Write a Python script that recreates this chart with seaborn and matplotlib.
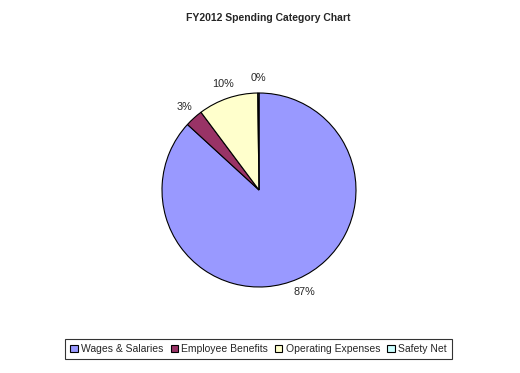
import matplotlib
matplotlib.use("Agg")
import matplotlib.pyplot as plt
import seaborn as sns

# Data
categories = ["Wages & Salaries", "Employee Benefits", "Operating Expenses", "Safety Net"]
shares = [86.8, 3.0, 10.0, 0.2]
pct_labels = ["87%", "3%", "10%", "0%"]
colors = ["#9999FF", "#993366", "#FFFFCC", "#CCFFFF"]

sns.set_style("white")
plt.rcParams["font.family"] = ["Liberation Sans", "DejaVu Sans"]

fig = plt.figure(figsize=(5.2, 3.73), dpi=100)
fig.patch.set_facecolor("white")

# pie centre ~ (259,190) px, radius ~97 px
cx, cy, r = 259, 190, 97
ax = fig.add_axes([(cx - r) / 520, (373 - cy - r) / 373, 2 * r / 520, 2 * r / 373])
wedges, texts = ax.pie(shares, colors=colors, labels=pct_labels, startangle=90,
                       counterclock=False, labeldistance=1.15,
                       wedgeprops=dict(edgecolor="black", linewidth=0.8),
                       textprops=dict(fontsize=7.8))
ax.set_xlim(-1, 1)
ax.set_ylim(-1, 1)
ax.set_aspect("equal")
for t in texts:
    t.set_clip_on(False)
    t.set_ha("center")
    t.set_va("center")

fig.suptitle("FY2012 Spending Category Chart", x=0.515, y=0.965,
             fontsize=7.5, fontweight="bold")

leg = fig.legend(wedges, categories, loc="center", bbox_to_anchor=(0.497, 0.064),
                 ncol=4, fontsize=7.5, frameon=True, fancybox=False,
                 handlelength=0.7, handleheight=0.7, handletextpad=0.3,
                 columnspacing=0.7, borderpad=0.5)
leg.get_frame().set_edgecolor("black")
leg.get_frame().set_linewidth(0.8)

fig.savefig("out.png", dpi=100, facecolor="white")
